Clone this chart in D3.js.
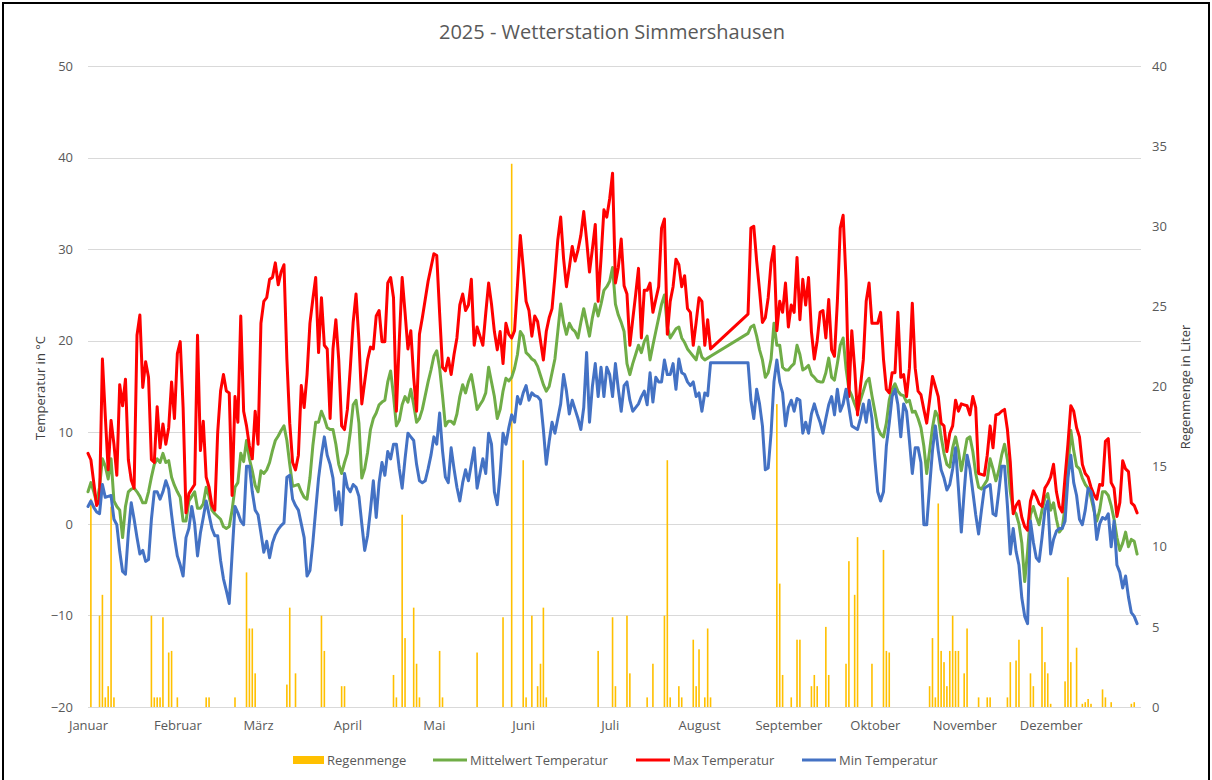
<!DOCTYPE html>
<html><head><meta charset="utf-8">
<script src="https://cdn.jsdelivr.net/npm/d3@7"></script>
<style>
body{margin:0;background:#fff;}
text{font-family:"Open Sans",sans-serif;}
</style></head><body>
<svg id="chart" width="1212" height="780"></svg>
<script>
const chartTitle = "2025 - Wetterstation Simmershausen";
const monthLabels = ["Januar","Februar","März","April","Mai","Juni","Juli","August","September","Oktober","November","Dezember"];
const leftTicks = [-20,-10,0,10,20,30,40,50];
const rightTicks = [0,5,10,15,20,25,30,35,40];
const seriesNames = ["Regenmenge","Mittelwert Temperatur","Max Temperatur","Min Temperatur"];
const N = null;

const maxTemp = [
7.7,7.0,4.5,2.0,2.6,18.0,11.8,5.9,11.3,8.7,
5.3,15.2,12.9,15.8,7.0,4.8,3.9,20.6,22.8,14.9,
17.7,16.0,7.0,6.7,12.8,8.3,10.9,8.7,10.5,15.5,
11.5,18.6,19.9,12.7,1.2,3.3,3.8,4.3,20.6,8.0,
11.2,5.1,4.0,2.0,1.5,10.0,14.5,16.3,14.5,14.3,
3.1,13.9,11.1,22.7,12.3,10.7,8.5,7.1,12.3,8.7,
21.9,24.3,24.7,26.7,26.9,28.5,26.1,27.5,28.3,18.0,
11.0,6.7,5.9,7.5,15.1,12.7,16.3,21.9,24.5,26.9,
18.7,24.7,19.5,19.1,11.5,19.1,22.3,17.9,10.7,10.3,
12.5,17.0,22.0,25.1,20.0,13.1,15.5,17.9,19.3,19.1,
22.7,23.3,19.9,19.9,26.3,26.9,24.7,12.3,20.0,26.9,
23.1,19.1,21.1,16.0,12.3,20.7,22.5,24.5,26.5,28.0,
29.5,29.3,23.0,17.1,16.7,18.1,16.3,18.5,20.3,23.9,
25.1,23.3,23.9,26.7,19.5,21.5,20.5,19.5,23.0,26.3,
24.0,21.0,19.0,21.0,17.5,21.9,20.7,20.3,21.1,26.0,
31.5,28.0,24.3,23.3,20.5,22.7,22.1,20.0,17.9,21.0,
22.5,23.5,27.0,31.0,33.5,29.0,25.9,28.0,30.3,28.7,
29.9,31.5,34.1,31.0,27.5,30.0,32.7,24.3,29.0,34.3,
33.5,35.5,38.3,26.3,28.0,31.1,26.0,25.1,19.5,22.3,
25.0,27.9,20.3,25.5,25.5,26.3,23.1,24.5,25.9,32.3,
33.3,20.7,24.3,25.9,28.9,28.3,25.9,27.1,23.5,23.1,
19.5,22.0,24.7,24.3,19.5,22.3,19.1,N,N,N,
N,N,N,N,N,N,N,N,N,22.9,
32.3,32.5,28.7,25.5,22.0,22.5,24.7,28.5,30.3,21.1,
24.3,23.1,26.3,21.5,23.9,23.1,29.1,22.3,26.7,23.9,
26.9,21.0,18.0,20.0,23.1,23.3,20.3,24.5,19.0,18.3,
24.3,32.3,33.7,26.7,13.9,21.1,17.0,11.9,15.0,17.9,
24.3,26.3,21.9,21.9,21.9,23.1,18.0,14.7,14.3,16.5,
16.5,23.1,16.0,16.3,13.9,17.0,24.1,17.0,14.5,14.1,
12.5,11.0,13.5,16.1,15.0,13.9,11.0,10.7,7.9,9.9,
10.7,13.5,12.3,13.1,13.0,12.9,11.9,13.9,12.7,5.5,
5.4,5.3,7.5,10.7,8.3,11.9,12.0,12.3,12.5,10.3,
6.7,1.1,2.0,2.5,0.7,-0.3,-0.7,2.5,3.6,3.0,
2.2,1.9,3.9,4.4,5.1,6.5,3.5,1.9,1.3,5.1,
8.7,12.9,12.3,10.5,9.5,6.5,5.5,5.1,4.0,3.2,
2.7,4.3,4.2,9.0,9.3,4.5,3.9,0.8,2.3,6.9,
6.0,5.7,2.3,2.0,1.2];

const meanTemp = [
3.5,4.5,3.5,2.3,4.0,7.1,6.3,4.9,7.1,2.5,
1.9,1.5,-1.5,1.9,3.5,3.8,3.9,3.5,3.0,2.3,
2.3,3.5,5.1,6.5,7.1,6.7,7.7,6.7,6.9,5.1,
4.2,3.5,2.9,0.3,0.3,2.5,3.0,3.5,1.7,1.7,
2.2,4.0,3.0,1.5,1.1,0.8,0.5,-0.3,-0.5,-0.3,
1.5,4.0,4.5,7.7,6.8,9.1,7.1,5.8,4.2,3.5,
5.8,5.5,5.9,6.7,8.0,9.1,9.6,10.2,10.7,9.1,
6.5,4.1,4.2,4.3,3.5,2.9,2.7,5.0,8.5,11.1,
11.1,12.3,11.5,10.5,10.3,10.3,8.7,6.5,5.5,6.7,
7.7,10.0,13.0,13.5,11.0,5.0,6.0,7.8,10.3,11.5,
12.1,13.0,13.3,13.5,15.5,16.7,14.0,10.7,11.3,13.0,
13.9,13.3,14.7,13.0,11.1,11.5,12.5,14.0,15.5,16.8,
18.3,18.9,17.0,14.0,10.7,11.2,11.2,10.9,12.0,13.9,
15.2,14.3,15.5,16.3,14.5,12.5,13.0,13.5,14.3,17.1,
15.5,13.9,11.5,12.5,14.5,15.9,15.6,16.0,17.0,18.5,
21.0,20.5,18.7,18.4,18.0,17.8,17.2,16.2,15.2,14.5,
15.0,16.5,18.0,21.0,24.0,22.0,20.7,21.9,21.3,21.0,
20.3,22.0,23.5,22.0,20.5,22.5,24.0,22.7,24.0,25.5,
25.9,26.5,28.0,24.0,22.8,22.0,21.0,17.5,16.3,17.5,
18.5,19.5,18.7,19.9,20.5,17.9,19.5,21.0,22.5,24.0,
25.0,21.5,20.3,20.8,21.3,21.5,20.3,19.8,19.1,18.7,
18.3,17.9,19.3,18.2,17.9,18.1,18.3,N,N,N,
N,N,N,N,N,N,N,N,N,20.8,
21.5,21.7,20.5,19.0,17.9,16.0,16.5,18.0,21.9,19.5,
19.5,17.1,16.8,16.8,17.2,17.5,19.5,18.5,16.8,17.0,
17.3,16.3,16.0,15.6,15.5,15.5,16.5,18.1,16.0,15.7,
17.5,19.5,20.3,17.0,14.7,14.0,13.1,12.3,13.5,14.5,
15.5,15.9,14.0,12.3,10.5,9.8,9.5,11.0,13.5,14.7,
15.3,14.5,14.1,14.0,13.3,13.5,12.2,12.3,11.5,10.5,
8.5,5.5,8.0,10.5,12.3,11.7,9.5,7.7,6.5,6.2,
8.3,9.5,8.0,5.8,7.5,9.3,9.5,7.9,5.5,4.0,
3.8,4.3,4.8,7.1,6.0,4.7,5.8,7.5,8.7,7.0,
3.5,1.5,1.1,0.0,-2.1,-6.3,-3.0,1.0,1.9,0.8,
-0.1,1.5,2.8,3.3,1.5,2.3,0.5,-0.9,-0.5,1.9,
6.0,10.2,8.0,6.3,6.0,5.0,4.3,3.9,2.9,1.5,
0.3,1.5,3.5,3.5,3.1,2.0,0.5,-1.5,-2.9,-2.1,
-0.9,-2.5,-1.7,-1.9,-3.3];

const minTemp = [
1.9,2.5,1.8,1.3,1.1,4.3,2.9,3.0,3.1,0.5,
-0.1,-3.0,-5.2,-5.5,-1.0,2.3,0.5,-1.5,-3.3,-2.9,
-4.1,-3.9,0.5,3.5,3.5,2.7,3.5,4.7,3.8,1.0,
-1.5,-3.5,-4.5,-5.7,-1.5,-0.5,1.9,0.0,-3.5,-1.0,
0.7,2.5,1.0,-0.5,-1.3,-1.3,-4.0,-6.0,-7.3,-8.7,
-3.3,1.9,1.2,0.3,-0.1,6.3,6.3,3.5,1.5,1.0,
-1.0,-3.1,-1.9,-3.7,-2.1,-1.2,-0.6,-0.2,0.1,5.1,
5.3,2.7,2.0,1.5,0.0,-1.5,-5.7,-5.1,-2.1,1.5,
5.0,7.5,9.5,7.5,6.5,5.0,1.5,3.5,-0.1,5.5,
4.0,3.5,4.3,4.0,3.0,0.0,-2.9,-1.3,1.5,4.7,
0.7,4.5,6.7,5.3,7.9,7.1,8.7,8.7,6.0,3.9,
7.1,9.9,9.5,9.1,6.5,4.7,4.5,4.7,6.0,7.5,
9.5,8.7,12.1,8.0,5.1,4.5,8.3,6.0,4.0,2.5,
4.5,5.9,4.7,6.5,8.3,3.9,5.5,7.1,5.5,9.9,
8.7,3.5,2.1,5.5,9.9,8.7,10.5,11.9,11.1,13.9,
13.1,14.3,15.1,13.5,14.3,14.0,13.9,13.5,10.3,6.5,
9.0,11.1,9.9,11.5,13.1,16.3,14.5,12.0,13.5,12.5,
11.5,10.3,12.7,18.7,11.1,15.0,17.5,13.9,17.1,13.9,
17.1,16.3,13.9,17.5,14.7,12.3,15.1,15.5,13.5,12.3,
12.7,13.1,13.9,14.5,13.0,16.5,13.3,16.0,15.5,15.5,
17.9,16.3,16.3,17.5,14.7,18.0,16.5,16.3,15.5,15.1,
15.5,13.9,14.3,12.3,14.3,14.0,17.6,N,N,N,
N,N,N,N,N,N,N,N,N,17.6,
13.5,11.5,14.7,13.1,10.7,5.9,6.1,9.9,15.5,17.9,
15.5,14.3,10.7,12.7,13.5,12.3,13.7,13.5,9.9,11.1,
9.9,12.0,13.1,12.0,11.1,9.9,11.5,13.0,13.9,11.9,
14.7,12.3,13.1,14.7,12.7,10.7,10.5,10.3,11.5,13.1,
11.1,13.5,11.5,7.1,3.5,2.5,3.5,8.5,11.0,13.9,
14.7,13.0,9.5,13.1,12.3,9.1,5.5,8.3,8.3,6.7,
-0.1,-0.1,4.0,8.0,10.7,8.0,5.9,5.0,3.7,4.3,
6.0,8.3,3.9,-0.9,3.5,7.5,6.0,3.5,1.0,-1.1,
1.5,3.9,4.1,4.3,1.1,0.9,3.5,6.3,6.3,2.0,
-3.3,-0.5,-3.0,-4.5,-8.1,-10.1,-10.9,0.3,-2.0,-3.7,
-4.1,-1.5,1.5,2.5,-3.3,-1.7,-0.8,-0.5,-0.5,0.3,
5.0,7.5,4.5,3.1,0.5,-0.1,1.5,3.9,3.5,1.9,
-1.7,0.0,0.7,0.5,1.1,-2.5,0.3,-4.5,-5.3,-7.0,
-5.7,-8.0,-9.7,-10.1,-10.9];

const rainDay = [1,4,5,6,7,8,9,22,23,24,25,26,28,29,31,41,42,51,55,56,57,58,69,70,72,81,82,88,89,
106,107,109,110,113,114,115,122,123,135,144,147,151,152,154,156,157,158,159,177,182,183,
187,188,194,196,200,201,202,205,206,210,211,212,214,215,216,239,240,241,244,246,247,251,252,253,
256,257,263,264,266,267,272,276,277,278,292,293,294,295,296,297,298,299,300,301,302,304,305,
309,312,313,319,320,322,323,327,328,331,332,333,334,339,340,341,343,345,346,347,348,352,353,355,362,363];
const rainMM = [13.0,5.7,7.0,0.6,1.3,12.5,0.6,5.7,0.6,0.6,0.6,5.6,3.4,3.5,0.6,0.6,0.6,0.6,8.4,4.9,4.9,2.1,1.4,6.2,2.1,5.7,3.5,1.3,1.3,
2.0,0.6,12.0,4.3,6.2,2.7,0.6,3.5,0.6,3.4,5.6,33.9,15.4,0.6,5.7,1.3,2.7,6.2,0.6,3.5,5.6,1.3,
5.7,2.1,0.6,2.7,5.7,15.4,0.6,1.3,0.6,4.2,1.3,3.6,0.6,4.9,0.6,18.9,7.7,2.0,0.6,4.2,4.2,1.3,2.0,1.3,
5.0,2.0,2.7,9.1,7.0,10.6,2.7,9.8,3.5,3.4,1.3,4.3,0.6,12.7,3.5,2.8,1.3,3.5,5.7,3.5,3.5,2.1,4.9,
0.6,0.6,0.6,0.6,2.8,2.9,4.2,2.1,1.3,5.0,2.8,2.1,0.2,1.6,8.1,2.8,3.7,0.2,0.3,0.5,0.2,1.1,0.6,0.3,0.2,0.3];

const colors = {rain:"#FFC000", mean:"#70AD47", max:"#FF0000", min:"#4472C4"};
const textColor = "#595959";

const svg = d3.select("#chart");
const W = 1212, H = 780;
svg.append("rect").attr("width",W).attr("height",H).attr("fill","#fff");
svg.append("rect").attr("x",3).attr("y",3).attr("width",1206).attr("height",800)
  .attr("fill","none").attr("stroke","#000").attr("stroke-width",2);

const day0 = Date.UTC(2025,0,1);
const dayDate = i => new Date(day0 + i*86400000);

const x = d3.scaleUtc().domain([new Date(Date.UTC(2025,0,1)), new Date(Date.UTC(2026,0,1))]).range([88,1140]);
const yT = d3.scaleLinear().domain([-20,50]).range([707,66]);
const yR = d3.scaleLinear().domain([0,40]).range([707,66]);

// gridlines
svg.append("g").selectAll("line").data(leftTicks).join("line")
  .attr("x1",x.range()[0]).attr("x2",x.range()[1]+1)
  .attr("y1",d=>Math.round(yT(d))+0.5).attr("y2",d=>Math.round(yT(d))+0.5)
  .attr("stroke","#D9D9D9").attr("stroke-width",1);

// rain bars
svg.append("g").selectAll("rect").data(rainDay.map((d,i)=>({date:dayDate(d), v:rainMM[i]}))).join("rect")
  .attr("x",d=>x(d.date)-0.8).attr("width",1.6)
  .attr("y",d=>yR(d.v)).attr("height",d=>yR(0)-yR(d.v))
  .attr("fill",colors.rain);

const line = d3.line().x(d=>x(d.date)).y(d=>yT(d.v));
function drawSeries(arr,color){
  const data = arr.map((v,i)=>({date:dayDate(i), v})).filter(d=>d.v!==null);
  svg.append("path").datum(data).attr("d",line)
    .attr("fill","none").attr("stroke",color).attr("stroke-width",3)
    .attr("stroke-linejoin","round").attr("stroke-linecap","round");
}
drawSeries(meanTemp,colors.mean);
drawSeries(maxTemp,colors.max);
drawSeries(minTemp,colors.min);

// axes
const axL = svg.append("g").attr("transform","translate(88,0)")
  .call(d3.axisLeft(yT).tickValues(leftTicks).tickSize(0).tickPadding(15));
const axR = svg.append("g").attr("transform","translate(1141,0)")
  .call(d3.axisRight(yR).tickValues(rightTicks).tickSize(0).tickPadding(11));
const monthDates = d3.utcMonth.range(new Date(Date.UTC(2025,0,1)), new Date(Date.UTC(2026,0,1)));
const axB = svg.append("g").attr("transform","translate(0,707)")
  .call(d3.axisBottom(x).tickValues(monthDates).tickFormat((d,i)=>monthLabels[i]).tickSize(0).tickPadding(14));
[axL,axR,axB].forEach(a=>{
  a.select(".domain").remove();
  a.selectAll("text").attr("fill",textColor).style("font-size","13px").style("font-family","'Open Sans',sans-serif");
});

// titles
svg.append("text").attr("x",612).attr("y",39).attr("text-anchor","middle")
  .attr("fill",textColor).style("font-size","20px").text(chartTitle);
svg.append("text").attr("transform","translate(45,388) rotate(-90)").attr("text-anchor","middle")
  .attr("fill","#404040").style("font-size","13px").text("Temperatur in °C");
svg.append("text").attr("transform","translate(1190,387) rotate(-90)").attr("text-anchor","middle")
  .attr("fill","#404040").style("font-size","13px").text("Regenmenge in Liter");

// legend
const legendX = [293,433,636,802];
const legendW = [31,34,34,34];
const legendColors = [colors.rain, colors.mean, colors.max, colors.min];
const lg = svg.append("g");
seriesNames.forEach((name,i)=>{
  const g = lg.append("g").attr("transform",`translate(${legendX[i]},760)`);
  if(i===0) g.append("rect").attr("x",0).attr("y",-4).attr("width",legendW[i]).attr("height",8).attr("fill",legendColors[i]);
  else g.append("line").attr("x1",0).attr("x2",legendW[i]).attr("y1",0).attr("y2",0).attr("stroke",legendColors[i]).attr("stroke-width",3);
  g.append("text").attr("x",legendW[i]+3).attr("y",0).attr("dy","0.35em").attr("fill",textColor).style("font-size","13px").text(name);
});
</script>
</body></html>
